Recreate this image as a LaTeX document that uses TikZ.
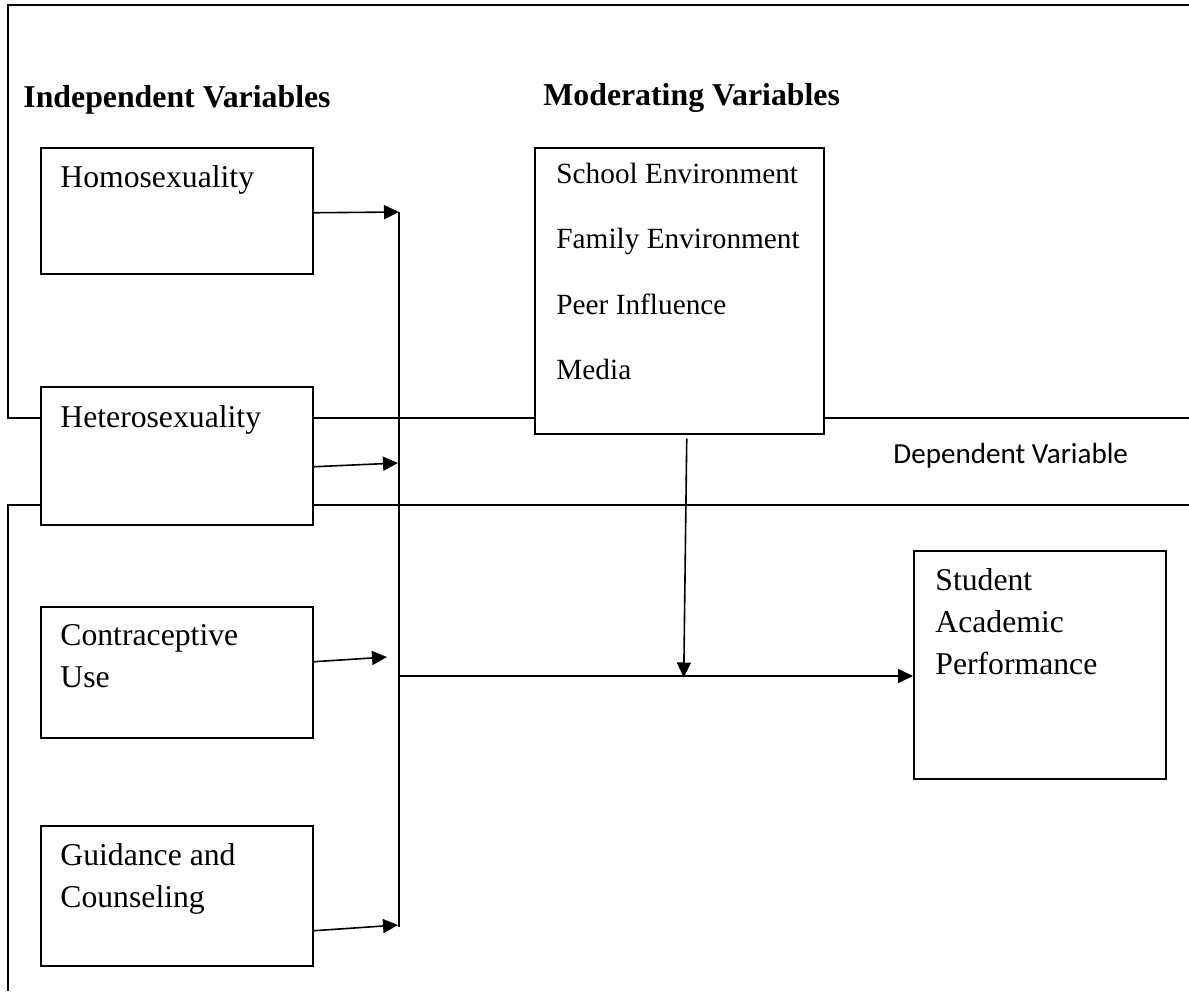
\documentclass[tikz,border=0pt]{standalone}
\usepackage{fontspec}
\setmainfont{Liberation Serif}
\newfontfamily\calibrifont{Carlito}
\usetikzlibrary{arrows.meta,calc}
\begin{document}
\begin{tikzpicture}[x=0.5pt,y=-0.5pt,
  frameline/.style={line width=1pt},
  box/.style={draw, line width=0.75pt, fill=white, anchor=north west, inner sep=0pt},
  conn/.style={line width=0.8pt},
  arr/.style={conn, -{Triangle[length=7.5pt,width=7pt]}},
  lbl/.style={anchor=base west, inner sep=0pt, font=\fontsize{15.85}{21}\selectfont},
  modl/.style={anchor=base west, inner sep=0pt, font=\fontsize{14.65}{32.8}\selectfont},
  head/.style={anchor=base west, inner sep=0pt, font=\fontsize{15.9}{19}\selectfont\bfseries},
  dep/.style={anchor=base west, inner sep=0pt, font=\fontsize{14.55}{18}\selectfont\calibrifont}
]
\useasboundingbox (0,0) rectangle (1189,991);
% frame lines
\draw[frameline] (1189,5) -- (8,5) -- (8,418) -- (1189,418);
\draw[frameline] (1189,505) -- (8,505) -- (8,991);
% boxes
\node[box, minimum width=136pt, minimum height=63pt] (homo) at (40,147) {};
\node[box, minimum width=136pt, minimum height=69pt] (hetero) at (40,386) {};
\node[box, minimum width=136pt, minimum height=65.5pt] (contra) at (40,606) {};
\node[box, minimum width=136pt, minimum height=70pt] (guid) at (40,825) {};
\node[box, minimum width=144.5pt, minimum height=143pt] (moder) at (534,147) {};
\node[box, minimum width=126pt, minimum height=114pt] (student) at (913,550) {};
% texts
\node[head] (ivh) at (23,107) {Independent Variables};
\node[head] (mvh) at (543,105) {Moderating Variables};
\node[lbl] (homot) at (60,187) {Homosexuality};
\node[lbl] (hett) at (60,427) {Heterosexuality};
\node[lbl] (cont) at (60,645) {\begin{tabular}[t]{@{}l@{}}Contraceptive\\Use\end{tabular}};
\node[lbl] (guit) at (60,865) {\begin{tabular}[t]{@{}l@{}}Guidance and\\Counseling\end{tabular}};
\node[lbl] (stut) at (935,590) {\begin{tabular}[t]{@{}l@{}}Student\\Academic\\Performance\end{tabular}};
\node[modl] (modt) at (556,183) {\begin{tabular}[t]{@{}l@{}}School Environment\\Family Environment\\Peer Influence\\Media\end{tabular}};
\node[dep] (dept) at (893,463) {Dependent Variable};
% connectors
\coordinate (jtop) at (399,212);
\coordinate (jbot) at (399,927);
\coordinate (jmid) at (399,676);
\coordinate (j2) at (398,463);
\coordinate (j3) at (387,657);
\coordinate (j4) at (398,925);
\draw[conn] (jtop) -- (jbot);
\draw[arr] ($(homo.east)+(0,2)$) -- (jtop);
\draw[arr] ($(hetero.east)+(0,11)$) -- (j2);
\draw[arr] ($(contra.east)+(0,-10.5)$) -- (j3);
\draw[arr] ($(guid.east)+(0,35)$) -- (j4);
\draw[arr] (jmid) -- (student.west |- jmid);
\draw[arr] ($(moder.south)+(7.5,4)$) -- ($(moder.south)+(4.5,243)$);
\end{tikzpicture}
\end{document}
